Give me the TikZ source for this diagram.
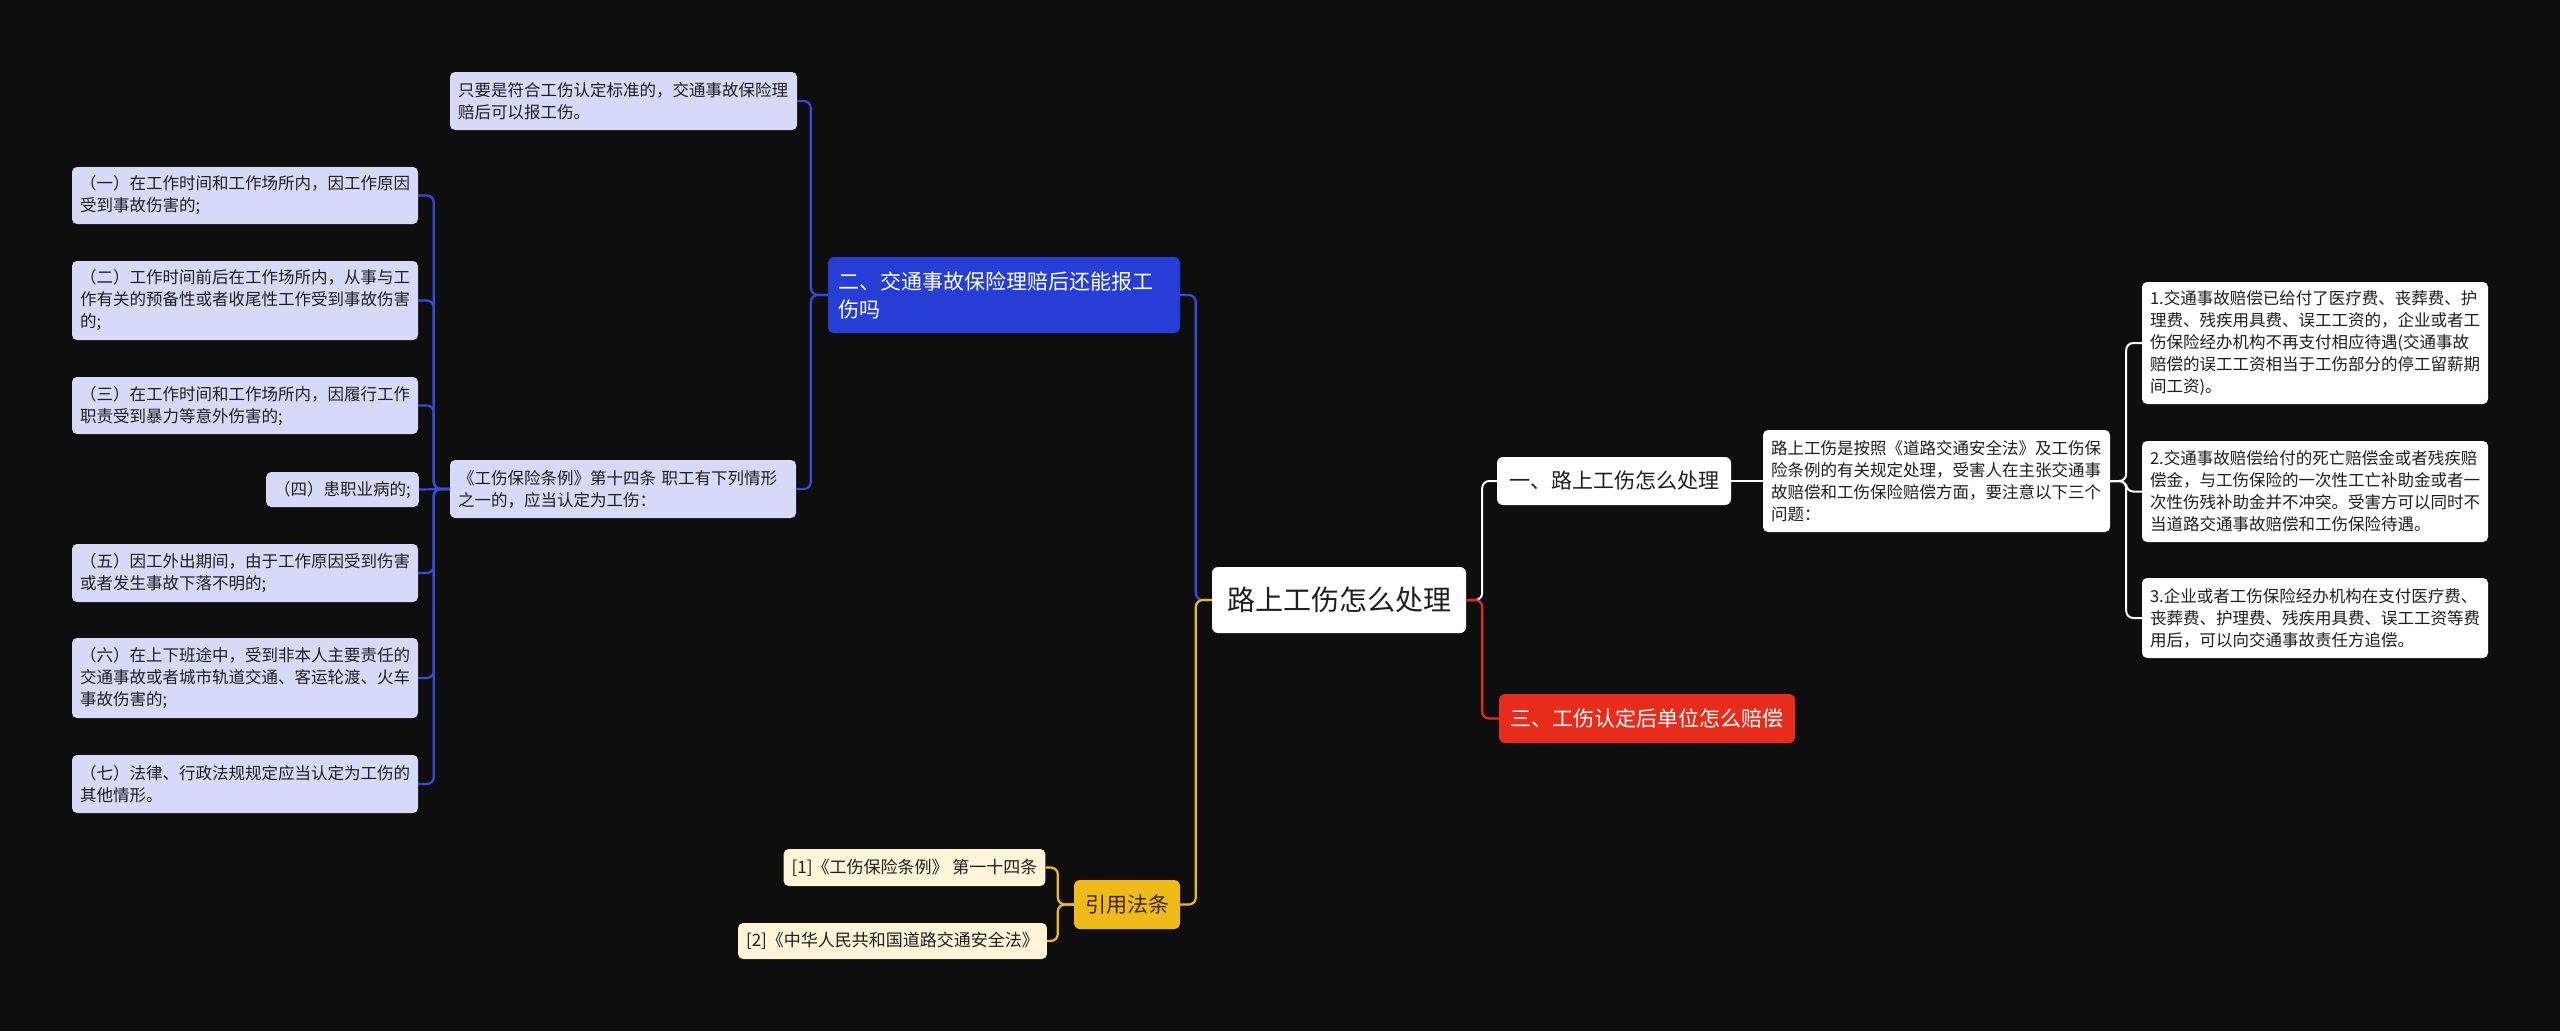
\documentclass[tikz,border=0pt]{standalone}
\usepackage{fontspec}
\setmainfont{Noto Sans CJK SC}[Kerning=Off,RawFeature={-chws;-halt;-palt}]
\definecolor{bg}{RGB}{14,14,14}
\definecolor{lav}{RGB}{214,218,248}
\definecolor{bluenode}{RGB}{38,62,214}
\definecolor{blueln}{RGB}{52,76,220}
\definecolor{yel}{RGB}{240,187,24}
\definecolor{cream}{RGB}{253,243,214}
\definecolor{rednode}{RGB}{232,44,28}
\definecolor{txt}{RGB}{30,30,30}
\definecolor{yeltxt}{RGB}{60,40,0}
\begin{document}
\begin{tikzpicture}[x=1pt,y=-1pt,
  box/.style={rounded corners=5pt, inner xsep=8pt, inner ysep=0pt, text=txt,
    font=\fontsize{16.5}{22}\selectfont},
  lavbox/.style={box, fill=lav, align=left},
  whbox/.style={box, fill=white, align=left},
  crbox/.style={box, fill=cream, align=center, font=\fontsize{17}{22}\selectfont},
  bigbox/.style={rounded corners=6pt, inner sep=0pt, align=center, font=\fontsize{21}{28}\selectfont},
  bl/.style={draw=blueln, line width=2.2pt, rounded corners=7pt},
  yl/.style={draw=yel, line width=2.2pt, rounded corners=7pt},
  rl/.style={draw=rednode, line width=2.2pt, rounded corners=7pt},
  wl/.style={draw=white, line width=2pt, rounded corners=7pt}
]
\fill[bg] (0,0) rectangle (2560,1031);
\useasboundingbox (0,0) rectangle (2560,1031);

% root
\node[bigbox, fill=white, text=txt, minimum width=254pt, minimum height=66pt,
  font=\fontsize{28}{34}\selectfont] (root) at (1339,600) {路上工伤怎么处理};

% right branch
\node[bigbox, fill=white, text=txt, minimum width=234pt, minimum height=48pt] (n1) at (1614,481) {一、路上工伤怎么处理};
\node[whbox, text width=331pt, minimum height=102pt] (det) at (1936.5,481)
 {路上工伤是按照《道路交通安全法》及工伤保\\险条例的有关规定处理，受害人在主张交通事\\故赔偿和工伤保险赔偿方面，要注意以下三个\\问题：};
\node[whbox, text width=330pt, minimum height=122pt] (r1) at (2315,343)
 {1.交通事故赔偿已给付了医疗费、丧葬费、护\\理费、残疾用具费、误工工资的，企业或者工\\伤保险经办机构不再支付相应待遇(交通事故\\赔偿的误工工资相当于工伤部分的停工留薪期\\间工资)。};
\node[whbox, text width=330pt, minimum height=101pt] (r2) at (2315,491.5)
 {2.交通事故赔偿给付的死亡赔偿金或者残疾赔\\偿金，与工伤保险的一次性工亡补助金或者一\\次性伤残补助金并不冲突。受害方可以同时不\\当道路交通事故赔偿和工伤保险待遇。};
\node[whbox, text width=330pt, minimum height=80pt] (r3) at (2315,618)
 {3.企业或者工伤保险经办机构在支付医疗费、\\丧葬费、护理费、残疾用具费、误工工资等费\\用后，可以向交通事故责任方追偿。};
\node[bigbox, fill=rednode, text=white, minimum width=296pt, minimum height=49pt] (n3) at (1647,718.5) {三、工伤认定后单位怎么赔偿};

% blue branch
\node[bigbox, fill=bluenode, text=white, align=left, text width=332pt, inner xsep=10pt, minimum height=76pt] (n2) at (1004,295)
 {二、交通事故保险理赔后还能报工\\伤吗};
\node[lavbox, text width=331pt, minimum height=58pt] (b1) at (623.5,101)
 {只要是符合工伤认定标准的，交通事故保险理\\赔后可以报工伤。};
\node[lavbox, text width=330pt, minimum height=58pt] (b2) at (623,489)
 {《工伤保险条例》第十四条 职工有下列情形\\之一的，应当认定为工伤：};
\node[lavbox, text width=330pt, minimum height=57pt] (i1) at (245,195.5)
 {（一）在工作时间和工作场所内，因工作原因\\受到事故伤害的;};
\node[lavbox, text width=330pt, minimum height=79pt] (i2) at (245,300.5)
 {（二）工作时间前后在工作场所内，从事与工\\作有关的预备性或者收尾性工作受到事故伤害\\的;};
\node[lavbox, text width=330pt, minimum height=57pt] (i3) at (245,405.5)
 {（三）在工作时间和工作场所内，因履行工作\\职责受到暴力等意外伤害的;};
\node[lavbox, minimum width=151pt, minimum height=35pt, align=center] (i4) at (342.5,489.5)
 {（四）患职业病的;};
\node[lavbox, text width=330pt, minimum height=58pt] (i5) at (245,573)
 {（五）因工外出期间，由于工作原因受到伤害\\或者发生事故下落不明的;};
\node[lavbox, text width=330pt, minimum height=80pt] (i6) at (245,678)
 {（六）在上下班途中，受到非本人主要责任的\\交通事故或者城市轨道交通、客运轮渡、火车\\事故伤害的;};
\node[lavbox, text width=330pt, minimum height=58pt] (i7) at (245,784)
 {（七）法律、行政法规规定应当认定为工伤的\\其他情形。};

% yellow branch
\node[bigbox, fill=yel, text=yeltxt, minimum width=106pt, minimum height=49pt] (yy) at (1127,904.5) {引用法条};
\node[crbox, minimum width=257pt, minimum height=37pt] (c1) at (914.5,867.5) {[1]《工伤保险条例》 第一十四条};
\node[crbox, minimum width=301pt, minimum height=36pt] (c2) at (892.5,941) {[2]《中华人民共和国道路交通安全法》};

% connectors: root left
\draw[bl] (root.west) -- ++(-16,0) |- (n2.east);
\draw[yl] (root.west) -- ++(-16,0) |- (yy.east);
% root right
\draw[wl] (root.east) -- ++(16,0) |- (n1.west);
\draw[rl] (root.east) -- ++(16,0) |- (n3.west);
% n1 -> detail -> r
\draw[wl] (n1.east) -- (det.west);
\draw[wl] (det.east) -- ++(16,0) |- (r1.west);
\draw[wl] (det.east) -- ++(16,0) |- (r2.west);
\draw[wl] (det.east) -- ++(16,0) |- (r3.west);
% blue
\draw[bl] (n2.west) -- ++(-17,0) |- (b1.east);
\draw[bl] (n2.west) -- ++(-17,0) |- (b2.east);
\draw[bl] (b2.west) -- ++(-16,0) |- (i1.east);
\draw[bl] (b2.west) -- ++(-16,0) |- (i2.east);
\draw[bl] (b2.west) -- ++(-16,0) |- (i3.east);
\draw[bl] (b2.west) -- (i4.east);
\draw[bl] (b2.west) -- ++(-16,0) |- (i5.east);
\draw[bl] (b2.west) -- ++(-16,0) |- (i6.east);
\draw[bl] (b2.west) -- ++(-16,0) |- (i7.east);
% yellow
\draw[yl] (yy.west) -- ++(-16,0) |- (c1.east);
\draw[yl] (yy.west) -- ++(-16,0) |- (c2.east);
\end{tikzpicture}
\end{document}
